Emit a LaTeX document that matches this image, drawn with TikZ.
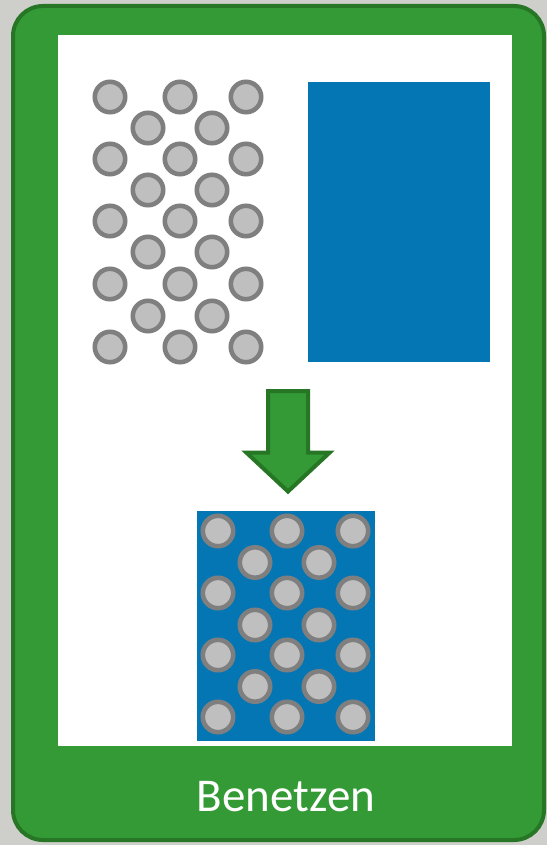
\documentclass[tikz,border=0pt]{standalone}
\usepackage{fontspec}
\setmainfont{Carlito}
\definecolor{bgstone}{RGB}{206,206,202}
\definecolor{cardgreen}{RGB}{52,154,54}
\definecolor{edgegreen}{RGB}{38,118,38}
\definecolor{water}{RGB}{4,118,180}
\definecolor{ringgray}{RGB}{127,127,127}
\definecolor{coregray}{RGB}{191,191,191}
\tikzset{
  particle/.style={fill=coregray, draw=ringgray, line width=4.6pt},
  card/.style={fill=cardgreen, draw=edgegreen, line width=4pt, rounded corners=30pt},
  bigarrow/.style={fill=cardgreen, draw=edgegreen, line width=4pt, line join=miter},
}
\begin{document}
\begin{tikzpicture}[x=1pt,y=-1pt]
  % stone background and fixed page size
  \fill[bgstone] (0,0) rectangle (547,845);
  \useasboundingbox (0,0) rectangle (547,845);

  % green card with white drawing area
  \draw[card] (13,6) rectangle (544,840);
  \fill[white] (58,35) rectangle (512,746);

  % dry particles (staggered packing)
  \foreach \y in {97,159,221,284,347}
    \foreach \x in {110,180,246}
      \draw[particle] (\x,\y) circle (15.2pt);
  \foreach \y in {128,190,252,316}
    \foreach \x in {148,212}
      \draw[particle] (\x,\y) circle (15.2pt);

  % liquid block
  \node[fill=water, inner sep=0pt, minimum width=182pt, minimum height=280pt, anchor=north west] (liquid) at (308,82) {};

  % process arrow
  \draw[bigarrow] (268,391) -- (308,391) -- (308,452.7) -- (329.5,452.7)
    -- (288,491.5) -- (246.5,452.7) -- (268,452.7) -- cycle;

  % wetted particles
  \node[fill=water, inner sep=0pt, minimum width=178pt, minimum height=230pt, anchor=north west] (wetted) at (197,511) {};
  \foreach \y in {531,593,655,717}
    \foreach \x in {218,287,353}
      \draw[particle] (\x,\y) circle (15.2pt);
  \foreach \y in {562.5,625,686.5}
    \foreach \x in {255,319}
      \draw[particle] (\x,\y) circle (15.2pt);

  % caption
  \node[text=white, inner sep=0pt, anchor=base, font=\fontsize{47}{47}\selectfont] (caption) at (286,811.5) {Benetzen};
\end{tikzpicture}
\end{document}
